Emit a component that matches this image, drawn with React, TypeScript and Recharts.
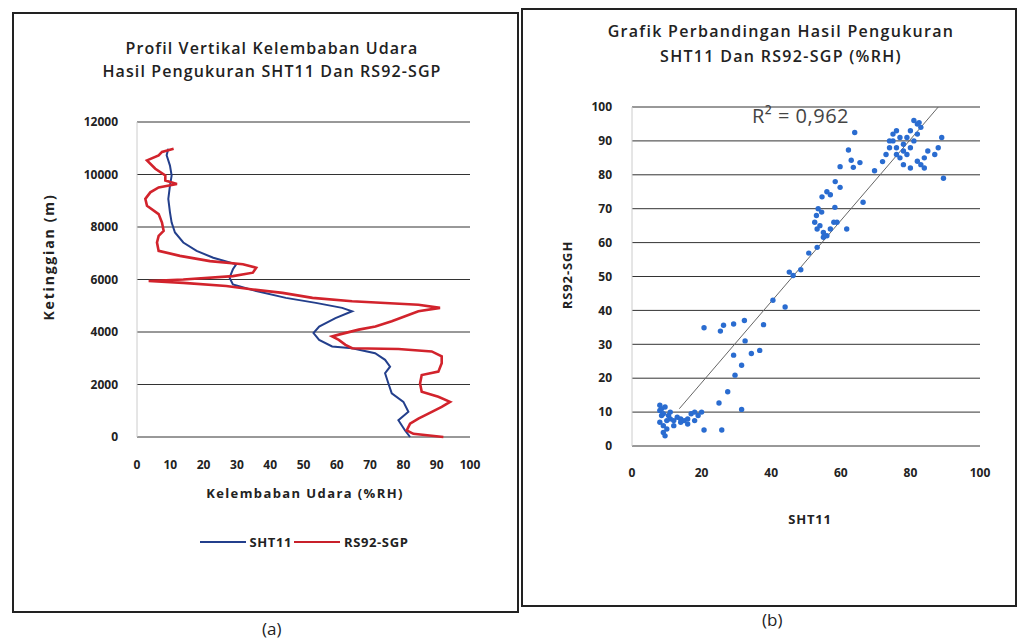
import { ScatterChart, Scatter, XAxis, YAxis, CartesianGrid, Legend } from "recharts";

// (a) vertical humidity profile
const HUM_TICKS = [0, 10, 20, 30, 40, 50, 60, 70, 80, 90, 100];
const ALT_TICKS = [0, 2000, 4000, 6000, 8000, 10000, 12000];

const sht11Alt = [0, 250, 640, 960, 1340, 1660, 2040, 2430, 2680, 2940, 3190, 3380, 3450, 3700, 3960, 4210, 4530, 4790, 4920, 5110, 5300, 5560, 5810, 6070, 6390, 6580, 6830, 7090, 7410, 7790, 8170, 8560, 9070, 9580, 9960, 10340, 10730, 10980];
const sht11Rh = [82, 80.5, 78.5, 81.5, 80, 76.5, 75.5, 74.5, 76, 74.5, 71.5, 64.6, 58.6, 54.7, 53, 54.7, 59.6, 64.6, 61.6, 53.7, 44.7, 35.8, 28.8, 27.8, 28.8, 29.8, 22.9, 17.9, 13.9, 11.4, 10.4, 9.9, 9.4, 9.9, 10.4, 9.9, 8.9, 9.4];

const rs92Alt = [0, 120, 250, 510, 700, 890, 1150, 1340, 1530, 1720, 2040, 2360, 2490, 2810, 3070, 3260, 3350, 3380, 3510, 3700, 3830, 3900, 4090, 4210, 4410, 4600, 4790, 4920, 5040, 5170, 5300, 5490, 5620, 5750, 5870, 5940, 6000, 6130, 6260, 6450, 6580, 6700, 6900, 7090, 7410, 7660, 7850, 8170, 8490, 8810, 9070, 9320, 9510, 9640, 9770, 9960, 10220, 10540, 10730, 10860, 10980];
const rs92Rh = [92, 83, 81, 82, 84.5, 87.5, 91.5, 94, 90.5, 85.5, 85, 85.5, 90.5, 91.5, 91.5, 88.5, 78.5, 64.6, 62.6, 60.6, 58.6, 60.6, 66.6, 71.6, 76.5, 80.5, 84.5, 91, 84.5, 64.6, 52.7, 43.7, 34.8, 26.8, 13.9, 3.5, 13.9, 28.8, 34.8, 35.8, 31.8, 21.9, 12.9, 6.5, 6, 6.5, 8, 7.5, 6.5, 3, 2.5, 4, 6.5, 12, 8.5, 8.5, 5.5, 3, 6.5, 7.5, 11];

const PROFILE_SERIES = ["SHT11", "RS92-SGP"];

// (b) SHT11 vs RS92-SGP scatter
const CMP_X_TICKS = [0, 20, 40, 60, 80, 100];
const CMP_Y_TICKS = [0, 10, 20, 30, 40, 50, 60, 70, 80, 90, 100];

const cmpSht = [8, 8, 8.5, 8, 9, 9, 9.5, 10, 10, 10.5, 9, 8.5, 9.5, 11, 11, 12, 12, 13, 14, 14, 15, 16, 16, 17, 18, 18, 19, 20,
  20.7, 25.8, 31.5, 25, 27.5, 29.6, 31.5, 29.2, 34.3, 36.7, 32.5, 20.7, 25.4, 26.3, 29.2, 32.3, 37.8, 40.5, 44, 46.3, 48.5, 45.2, 50.8, 53.2, 55, 53.2,
  52.5, 53, 54, 55, 56, 57, 58, 54.5, 53.5, 61.7, 58.9, 58.3, 66.4, 54.6, 57, 59.8, 58.4, 56, 59.8, 63.6, 65.5, 63, 62.2, 64, 69.7, 72,
  73, 74, 75, 75, 76, 77, 78, 78, 79, 80, 81, 82, 83, 82, 81, 80, 79, 77, 78, 80, 82, 83, 84, 85, 76, 74, 76, 84, 82.5, 89, 88, 87, 89.5];
const cmpRs = [12, 10.5, 9, 7, 6, 4, 3, 5, 7.5, 9, 9.5, 11, 11.5, 8, 10, 7.5, 6, 8.5, 8, 7, 7.5, 8, 6.5, 9.5, 10, 7.5, 9, 10,
  4.7, 4.7, 10.8, 12.7, 16, 20.9, 23.8, 26.8, 27.3, 28.2, 31, 34.9, 33.9, 35.6, 36, 37, 35.8, 43, 41, 50.3, 52, 51.3, 56.9, 58.6, 61.6, 64,
  66, 68, 65, 63, 62, 64, 66, 69, 70, 64, 66, 70.4, 71.9, 73.5, 74.1, 76.3, 78, 75, 82.4, 82.2, 83.6, 84.3, 87.3, 92.5, 81.2, 83.9,
  86, 88, 90, 92, 93, 91, 89, 87, 86, 88, 90, 92, 94, 95, 96, 93, 91, 85, 83, 82, 84, 83, 85, 87, 88, 90, 86, 82, 95.4, 91, 88, 86, 79];

const trendSht = [13.6, 88];
const trendRs = [11, 100];
const R2_LABEL = "R\u00B2 = 0,962";

const sht11Data = sht11Alt.map((alt, i) => ({ alt, rh: sht11Rh[i] }));
const rs92Data = rs92Alt.map((alt, i) => ({ alt, rh: rs92Rh[i] }));
const cmpData = cmpSht.map((sht, i) => ({ sht, rs: cmpRs[i] }));
const trendData = trendSht.map((sht, i) => ({ sht, rs: trendRs[i] }));

const FONT = "'Open Sans', 'DejaVu Sans', sans-serif";
const INK = "#222";
const tickStyle = { fill: INK, fontSize: 12, fontWeight: 700, fontFamily: FONT };
const noDot = () => <g />;

function LegendRow({ payload }: any) {
  const items = [...(payload || [])].sort(
    (a: any, b: any) => PROFILE_SERIES.indexOf(a.value) - PROFILE_SERIES.indexOf(b.value)
  );
  return (
    <div style={{ display: "flex", justifyContent: "center", alignItems: "center", fontFamily: FONT, fontSize: 13, fontWeight: 700, letterSpacing: 0.6, color: INK }}>
      {items.map((p: any) => (
        <span key={p.value} style={{ display: "flex", alignItems: "center", marginRight: 2 }}>
          <svg width={46} height={4} style={{ marginRight: 4 }}>
            <line x1={0} y1={2} x2={46} y2={2} stroke={p.color} strokeWidth={2} />
          </svg>
          {p.value}
        </span>
      ))}
    </div>
  );
}

export default function App() {
  const abs = (left: number, top: number, extra: any = {}) => ({ position: "absolute" as const, left, top, ...extra });
  return (
    <div style={{ position: "absolute", left: 0, top: 0, width: 1026, height: 643, background: "#fff", overflow: "hidden", fontFamily: FONT, color: INK }}>
      {/* panel frames */}
      <div style={abs(12, 12, { width: 503, height: 597, border: "2px solid #222" })} />
      <div style={abs(521, 8, { width: 492, height: 595, border: "2px solid #222" })} />

      {/* (a) */}
      <div style={abs(12, 37, { width: 520, textAlign: "center", fontSize: 16, fontWeight: 600, letterSpacing: 1.1, lineHeight: "23px" })}>
        Profil Vertikal Kelembaban Udara<br />Hasil Pengukuran SHT11 Dan RS92-SGP
      </div>
      <div style={abs(0, 0)}>
        <ScatterChart width={517} height={600} margin={{ top: 122, right: 47, bottom: 133, left: 77 }}>
          <CartesianGrid vertical={false} stroke="#333" strokeWidth={1} />
          <XAxis type="number" dataKey="rh" domain={[0, 100]} ticks={HUM_TICKS} height={30} axisLine={false} tickLine={false} tickSize={0} tickMargin={23} tick={tickStyle} />
          <YAxis type="number" dataKey="alt" domain={[0, 12000]} ticks={ALT_TICKS} width={60} axisLine={{ stroke: "#ccc" }} tickLine={false} tickSize={0} tickMargin={19} tick={tickStyle} />
          <Legend layout="horizontal" verticalAlign="middle" content={<LegendRow />} wrapperStyle={{ top: 533, left: 60, width: 490 }} />
          <Scatter name="SHT11" data={sht11Data} fill="#233f8c" line={{ stroke: "#233f8c", strokeWidth: 2 }} shape={noDot} isAnimationActive={false} />
          <Scatter name="RS92-SGP" data={rs92Data} fill="#c8202a" line={{ stroke: "#d2232c", strokeWidth: 2.6 }} shape={noDot} isAnimationActive={false} />
        </ScatterChart>
      </div>
      <div style={abs(48, 257, { transform: "translate(-50%, -50%) rotate(-90deg)", fontSize: 14, fontWeight: 700, letterSpacing: 1.8, whiteSpace: "nowrap" })}>Ketinggian (m)</div>
      <div style={abs(155, 484, { width: 300, textAlign: "center", fontSize: 13, fontWeight: 700, letterSpacing: 1.4 })}>Kelembaban Udara (%RH)</div>
      <div style={abs(262, 617, { fontSize: 17 })}>(a)</div>

      {/* (b) */}
      <div style={abs(521, 19, { width: 520, textAlign: "center", fontSize: 16, fontWeight: 600, letterSpacing: 1.3, lineHeight: "25px" })}>
        Grafik Perbandingan Hasil Pengukuran<br />SHT11 Dan RS92-SGP (%RH)
      </div>
      <div style={abs(521, 0)}>
        <ScatterChart width={494} height={600} margin={{ top: 107, right: 35, bottom: 124, left: 71 }}>
          <CartesianGrid vertical={false} stroke="#333" strokeWidth={1} />
          <XAxis type="number" dataKey="sht" domain={[0, 100]} ticks={CMP_X_TICKS} height={30} axisLine={false} tickLine={false} tickSize={0} tickMargin={22} tick={tickStyle} />
          <YAxis type="number" dataKey="rs" domain={[0, 100]} ticks={CMP_Y_TICKS} width={40} axisLine={{ stroke: "#ccc" }} tickLine={false} tickSize={0} tickMargin={20} tick={tickStyle} />
          <Scatter name="trend" data={trendData} fill="#777" line={{ stroke: "#666", strokeWidth: 1 }} shape={noDot} isAnimationActive={false} />
          <Scatter name="RS92-SGP" data={cmpData} fill="#2a6cd0" shape={(p: any) => <circle cx={p.cx} cy={p.cy} r={2.7} fill="#2a6cd0" />} isAnimationActive={false} />
        </ScatterChart>
      </div>
      <div style={abs(752, 102, { fontSize: 20, color: "#444", letterSpacing: 0.5, whiteSpace: "nowrap" })}>{R2_LABEL}</div>
      <div style={abs(567, 275, { transform: "translate(-50%, -50%) rotate(-90deg)", fontSize: 13, fontWeight: 700, letterSpacing: 0.9, whiteSpace: "nowrap" })}>RS92-SGH</div>
      <div style={abs(760, 510, { width: 100, textAlign: "center", fontSize: 13, fontWeight: 700, letterSpacing: 0.8 })}>SHT11</div>
      <div style={abs(762, 608, { fontSize: 17 })}>(b)</div>
    </div>
  );
}
